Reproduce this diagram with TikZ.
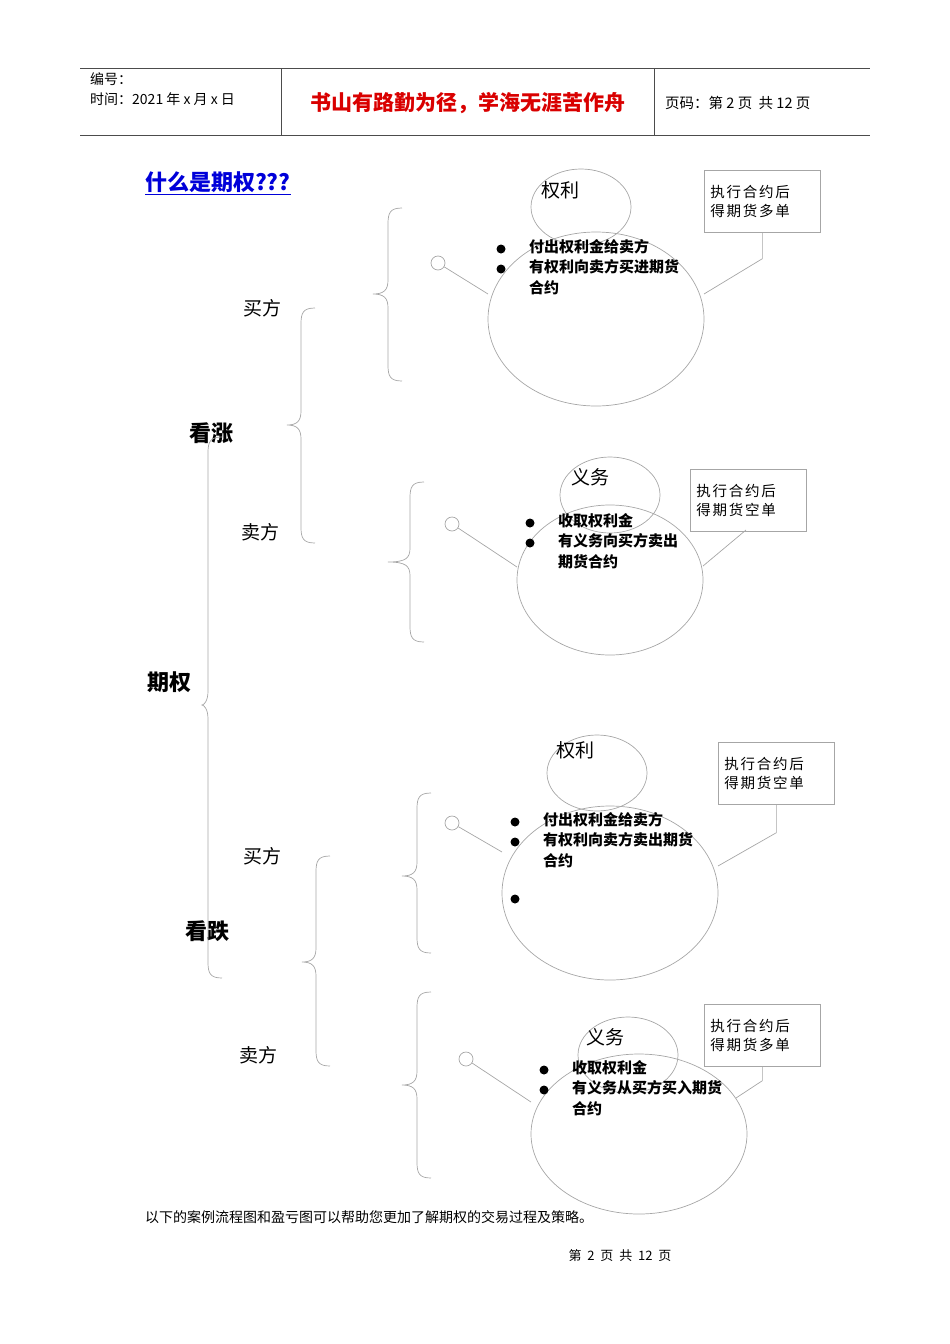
\documentclass[tikz,border=0pt]{standalone}
\usepackage{fontspec}
\setmainfont{Liberation Sans}
\newfontfamily\cjk{Noto Sans CJK SC}
\newfontfamily\cjkw[LetterSpace=12]{Noto Sans CJK SC}
\begin{document}
\begin{tikzpicture}[x=1pt,y=-1pt,
  gl/.style={draw=black!35,line width=0.7pt},
  lbl/.style={font=\cjk\fontsize{19}{19}\selectfont,inner sep=0},
  blbl/.style={font=\cjk\bfseries\fontsize{22}{22}\selectfont,inner sep=0},
  bul/.style={font=\cjk\bfseries\fontsize{15}{20.5}\selectfont,inner sep=0,anchor=north west,align=left},
  dot/.style={circle,fill=black,inner sep=0,minimum size=9pt},
  cbox/.style={draw=black!35,line width=0.7pt,font=\cjkw\fontsize{14.5}{19}\selectfont,align=left,minimum width=114pt,minimum height=62pt,text width=104pt,anchor=north west,inner sep=6pt},
  hc/.style={circle,draw=black!35,line width=0.7pt,minimum size=14pt,inner sep=0}]
\useasboundingbox (0,0) rectangle (950,1344);
\newcommand{\mybrace}[5]{% x, top, bottom, tipx, tipy
 \draw[gl] (#1+14,#2) .. controls (#1+2,#2) and (#1,#2+5) .. (#1,#2+16) -- (#1,#5-14) .. controls (#1,#5-4) and (#1-4,#5) .. (#4,#5) .. controls (#1-4,#5) and (#1,#5+4) .. (#1,#5+14) -- (#1,#3-16) .. controls (#1,#3-5) and (#1+2,#3) .. (#1+14,#3);}
% header
\draw[black!70] (80,68) -- (870,68) (80,135) -- (870,135) (281,68) -- (281,135) (654,68) -- (654,135);
\node[anchor=west,font=\cjk\fontsize{14}{14}\selectfont,inner sep=0] (h1) at (90,79) {编号：};
\node[anchor=west,font=\cjk\fontsize{14}{14}\selectfont,inner sep=0] (h2) at (90,99) {时间：2021 年 x 月 x 日};
\node[font=\cjk\bfseries\fontsize{21}{21}\selectfont,text=red!85!black,inner sep=0] (h3) at (468,103) {书山有路勤为径，学海无涯苦作舟};
\node[anchor=west,font=\cjk\fontsize{14.5}{14}\selectfont,inner sep=0] (h4) at (665,103) {页码：第 2 页\ \ 共 12 页};
\node[anchor=west,font=\cjk\bfseries\fontsize{22}{22}\selectfont,text=blue!85!black,inner sep=0] (title) at (145,183) {\underline{什么是期权???}};
% labels
\node[blbl] (qq) at (169,682) {期权};
\node[blbl] (kz) at (211,433) {看涨};
\node[blbl] (kd) at (207,931) {看跌};
\node[lbl] (b1) at (262,308) {买方};
\node[lbl] (s1) at (260,532) {卖方};
\node[lbl] (b2) at (262,856) {买方};
\node[lbl] (s2) at (258,1055) {卖方};
% braces
\mybrace{208}{437}{978}{202}{705}
\mybrace{301}{308}{543}{287}{425}
\mybrace{316}{856}{1066}{302}{962}
\mybrace{388}{208}{381}{373}{294}
\mybrace{410}{482}{642}{388}{562}
\mybrace{417}{793}{953}{402}{876}
\mybrace{417}{992}{1178}{402}{1085}
% group 1
\draw[gl] (581,207) ellipse (50 and 38);
\draw[gl] (596,319) ellipse (108 and 87);
\node[lbl] (t1) at (560,190) {权利};
\node[hc] (c1) at (438,263) {};
\coordinate (e1) at (488,294);
\draw[gl] (c1) -- (e1);
\node[cbox] (k1) at (704,170) {执行合约后\\得期货多单};
\draw[gl] (k1.south) -- ++(0,26) -- (704,294);
\node[dot] (d11) at (501,249) {}; \node[dot] (d12) at (501,269) {};
\node[bul] (x1) at (529,239) {付出权利金给卖方\\有权利向卖方买进期货\\合约};
% group 2
\draw[gl] (610,495) ellipse (50 and 38);
\draw[gl] (610,580) ellipse (93 and 75);
\node[lbl] (t2) at (590,477) {义务};
\node[hc] (c2) at (452,524) {};
\coordinate (e2) at (517,567);
\draw[gl] (c2) -- (e2);
\node[cbox] (k2) at (690,469) {执行合约后\\得期货空单};
\draw[gl] (746,530) -- (703,566);
\node[dot] (d21) at (530,523) {}; \node[dot] (d22) at (530,543) {};
\node[bul] (x2) at (558,513) {收取权利金\\有义务向买方卖出\\期货合约};
% group 3
\draw[gl] (597,773) ellipse (50 and 38);
\draw[gl] (610,893) ellipse (108 and 87);
\node[lbl] (t3) at (575,750) {权利};
\node[hc] (c3) at (452,823) {};
\coordinate (e3) at (502,852);
\draw[gl] (c3) -- (e3);
\node[cbox] (k3) at (718,742) {执行合约后\\得期货空单};
\draw[gl] (k3.south) -- ++(0,28) -- (718,866);
\node[dot] (d31) at (515,822) {}; \node[dot] (d32) at (515,842) {}; \node[dot] (d33) at (515,899) {};
\node[bul] (x3) at (543,812) {付出权利金给卖方\\有权利向卖方卖出期货\\合约};
% group 4
\draw[gl] (628,1055) ellipse (50 and 38);
\draw[gl] (639,1134) ellipse (108 and 80);
\node[lbl] (t4) at (605,1037) {义务};
\node[hc] (c4) at (466,1059) {};
\coordinate (e4) at (531,1102);
\draw[gl] (c4) -- (e4);
\node[cbox] (k4) at (704,1004) {执行合约后\\得期货多单};
\draw[gl] (k4.south) -- ++(0,14) -- (736,1098);
\node[dot] (d41) at (544,1070) {}; \node[dot] (d42) at (544,1090) {};
\node[bul] (x4) at (572,1060) {收取权利金\\有义务从买方买入期货\\合约};
% bottom
\node[anchor=west,font=\cjk\fontsize{14}{14}\selectfont,inner sep=0] (bt) at (145,1217) {以下的案例流程图和盈亏图可以帮助您更加了解期权的交易过程及策略。};
\node[font=\cjk\fontsize{13}{13}\selectfont,inner sep=0] (ft) at (620,1256) {第\ \ 2\ \ 页\ \ 共\ \ 12\ \ 页};
\end{tikzpicture}
\end{document}
